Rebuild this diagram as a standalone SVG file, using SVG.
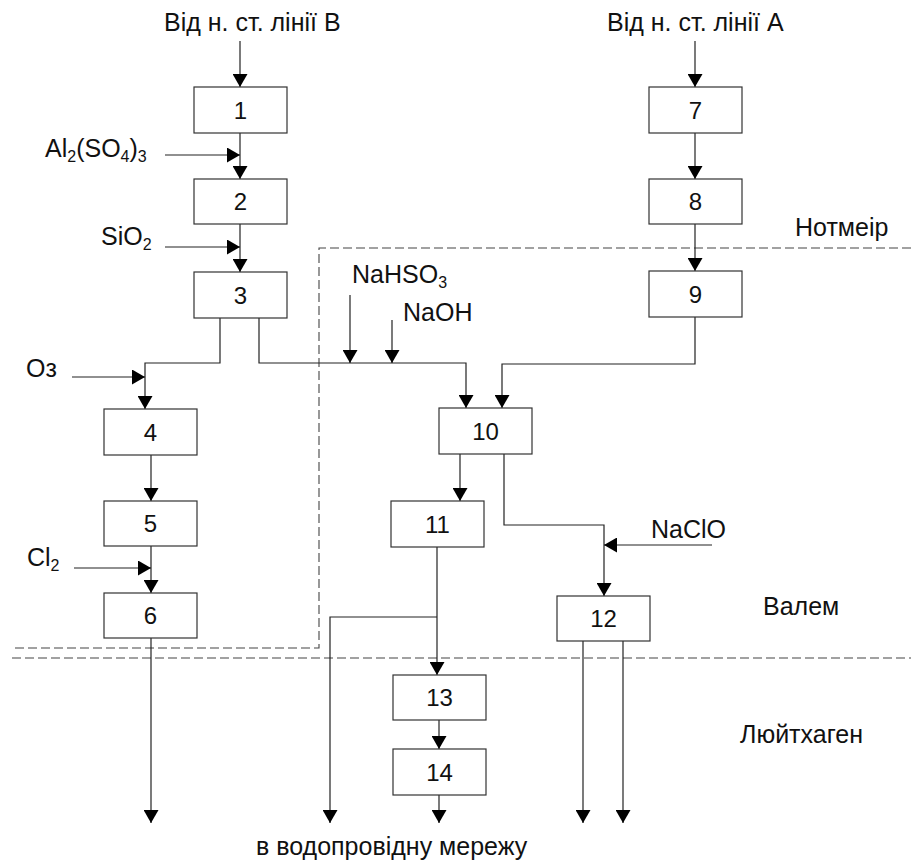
<svg xmlns="http://www.w3.org/2000/svg" width="911" height="863" viewBox="0 0 911 863">
<style>
.box{fill:#fff;stroke:#333;stroke-width:1.2}
.t{font-family:"Liberation Sans",Arial,sans-serif;font-size:25px;fill:#111}
.n{font-family:"Liberation Sans",Arial,sans-serif;font-size:24px;fill:#111;text-anchor:middle}
.sub{font-size:16px}
.c{fill:none;stroke:#222;stroke-width:1.2}
.a{marker-end:url(#ah)}
.d{fill:none;stroke:#444;stroke-width:1.1;stroke-dasharray:9,4}
</style>
<defs>
<marker id="ah" markerUnits="userSpaceOnUse" markerWidth="13" markerHeight="15" refX="13" refY="7.5" orient="auto">
<path d="M0,0 L13,7.5 L0,15 z" fill="#000"/>
</marker>
</defs>
<rect width="911" height="863" fill="#fff"/>
<g id="regions">
<path class="d" d="M911,248 H319 V648 H12"/>
<path class="d" d="M12,658 H911"/>
</g>
<g id="connectors">
<path class="c a" d="M240,41 V87"/>
<path class="c a" d="M240,133 V179"/>
<path class="c a" d="M165,155 H240"/>
<path class="c a" d="M240,224 V272"/>
<path class="c a" d="M165,247 H240"/>
<path class="c a" d="M220,318 V363 H145 V409"/>
<path class="c a" d="M72,377 H145"/>
<path class="c a" d="M151,455 V501"/>
<path class="c a" d="M151,546 V593"/>
<path class="c a" d="M74,568 H151"/>
<path class="c a" d="M151,638 V823"/>
<path class="c a" d="M259,318 V363 H466 V408"/>
<path class="c a" d="M350,295 V363"/>
<path class="c a" d="M392,320 V363"/>
<path class="c a" d="M695,41 V87"/>
<path class="c a" d="M695,133 V179"/>
<path class="c a" d="M695,224 V271"/>
<path class="c a" d="M695,317 V364 H502 V408"/>
<path class="c a" d="M460,454 V501"/>
<path class="c a" d="M504,454 V525 H604 V596"/>
<path class="c a" d="M712,545 H604"/>
<path class="c a" d="M437,547 V675"/>
<path class="c a" d="M437,617 H330 V823"/>
<path class="c a" d="M439,720 V749"/>
<path class="c a" d="M439,795 V823"/>
<path class="c a" d="M583,641 V823"/>
<path class="c a" d="M623,641 V823"/>
</g>
<g id="node1"><rect class="box" x="194" y="87" width="93" height="46"/><text class="n" x="240.5" y="119">1</text></g>
<g id="node2"><rect class="box" x="194" y="179" width="93" height="45"/><text class="n" x="240.5" y="210">2</text></g>
<g id="node3"><rect class="box" x="194" y="272" width="93" height="46"/><text class="n" x="240.5" y="304">3</text></g>
<g id="node4"><rect class="box" x="104" y="409" width="93" height="46"/><text class="n" x="150.5" y="441">4</text></g>
<g id="node5"><rect class="box" x="104" y="501" width="93" height="45"/><text class="n" x="150.5" y="532">5</text></g>
<g id="node6"><rect class="box" x="104" y="593" width="93" height="45"/><text class="n" x="150.5" y="624">6</text></g>
<g id="node7"><rect class="box" x="649" y="87" width="93" height="46"/><text class="n" x="695.5" y="119">7</text></g>
<g id="node8"><rect class="box" x="649" y="179" width="93" height="45"/><text class="n" x="695.5" y="210">8</text></g>
<g id="node9"><rect class="box" x="649" y="271" width="93" height="46"/><text class="n" x="695.5" y="303">9</text></g>
<g id="node10"><rect class="box" x="439" y="408" width="93" height="46"/><text class="n" x="485.5" y="440">10</text></g>
<g id="node11"><rect class="box" x="391" y="501" width="93" height="46"/><text class="n" x="437.5" y="533">11</text></g>
<g id="node12"><rect class="box" x="557" y="596" width="93" height="45"/><text class="n" x="603.5" y="627">12</text></g>
<g id="node13"><rect class="box" x="393" y="675" width="93" height="45"/><text class="n" x="439.5" y="706">13</text></g>
<g id="node14"><rect class="box" x="393" y="749" width="93" height="46"/><text class="n" x="439.5" y="781">14</text></g>
<g id="labels">
<text class="t" x="164" y="31">Від н. ст. лінії В</text>
<text class="t" x="607" y="31">Від н. ст. лінії А</text>
<text class="t" x="45" y="157">Al<tspan class="sub" dy="5">2</tspan><tspan dy="-5">(SO</tspan><tspan class="sub" dy="5">4</tspan><tspan dy="-5">)</tspan><tspan class="sub" dy="5">3</tspan></text>
<text class="t" x="101" y="245">SiO<tspan class="sub" dy="5">2</tspan></text>
<text class="t" x="26" y="377">Oз</text>
<text class="t" x="27" y="566">Cl<tspan class="sub" dy="5">2</tspan></text>
<text class="t" x="352" y="283">NaHSO<tspan class="sub" dy="5">3</tspan></text>
<text class="t" x="403" y="321">NaOH</text>
<text class="t" x="651" y="538">NaClO</text>
<text class="t" x="795" y="236">Нотмеір</text>
<text class="t" x="763" y="615">Валем</text>
<text class="t" x="740" y="743">Люйтхаген</text>
<text class="t" x="256" y="855">в водопровідну мережу</text>
</g>
</svg>
